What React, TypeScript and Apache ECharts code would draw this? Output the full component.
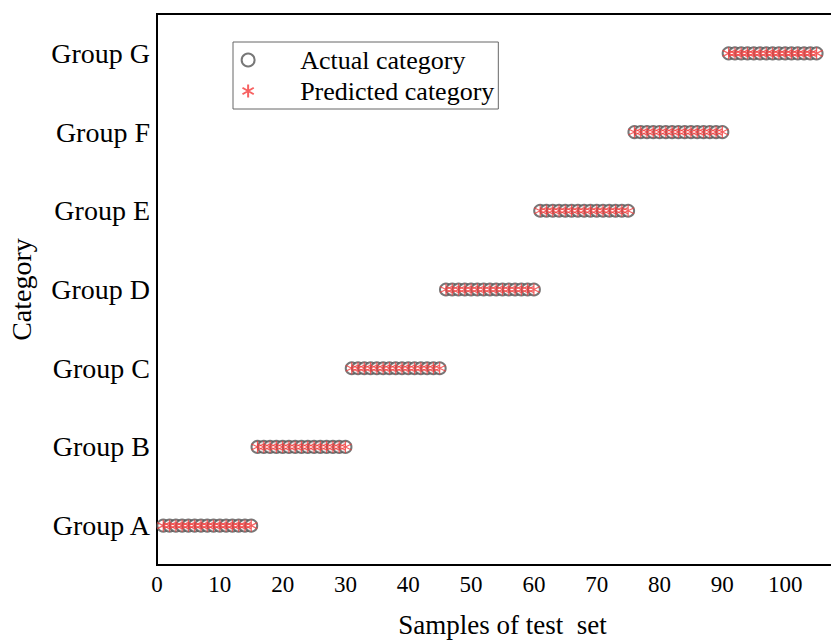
import React, { useEffect, useRef } from "react";
import * as echarts from "echarts";

const groups = ["Group A", "Group B", "Group C", "Group D", "Group E", "Group F", "Group G"];
const samples = Array.from({ length: 105 }, (_, i) => i + 1);
// category index of each sample (15 samples per group)
const actualCategory = [
  0,0,0,0,0,0,0,0,0,0,0,0,0,0,0,
  1,1,1,1,1,1,1,1,1,1,1,1,1,1,1,
  2,2,2,2,2,2,2,2,2,2,2,2,2,2,2,
  3,3,3,3,3,3,3,3,3,3,3,3,3,3,3,
  4,4,4,4,4,4,4,4,4,4,4,4,4,4,4,
  5,5,5,5,5,5,5,5,5,5,5,5,5,5,5,
  6,6,6,6,6,6,6,6,6,6,6,6,6,6,6,
];
const predictedCategory = [...actualCategory];
const xTicks = [0, 10, 20, 30, 40, 50, 60, 70, 80, 90, 100, 110];

const FONT = "'Liberation Serif', 'Times New Roman', serif";
const ASTERISK = "path://M0,-5L0,5M-4.33,-2.5L4.33,2.5M-4.33,2.5L4.33,-2.5";

export default function App() {
  const ref = useRef<HTMLDivElement>(null);
  useEffect(() => {
    const chart = echarts.init(ref.current!, null, { renderer: "svg" });
    chart.setOption({
      animation: false,
      backgroundColor: "#fff",
      grid: {
        left: 157, top: 14, right: 4, bottom: 79,
        outerBoundsMode: "none", containLabel: false,
        show: true, borderColor: "#000", borderWidth: 2,
      },
      legend: {
        left: 233, top: 42, orient: "vertical",
        borderColor: "#666", borderWidth: 1,
        padding: [5, 4, 5, 7], itemGap: 5,
        itemWidth: 50, itemHeight: 13,
        textStyle: { fontFamily: FONT, fontSize: 26, color: "#000", padding: [0, 0, 0, 22] },
        data: ["Actual category", "Predicted category"],
      },
      xAxis: {
        type: "value", min: 0, max: xTicks[xTicks.length - 1], interval: 10,
        name: "Samples of test  set", nameLocation: "middle", nameGap: 46,
        nameTextStyle: { fontFamily: FONT, fontSize: 27, color: "#000" },
        axisLine: { lineStyle: { color: "#000", width: 2 } },
        axisTick: { inside: true, length: 9, lineStyle: { color: "#000", width: 1.5 } },
        axisLabel: {
          fontFamily: FONT, fontSize: 23, color: "#000", margin: 8,
          formatter: (v: number) => (v > 100 ? "" : String(v)),
        },
        splitLine: { show: false },
      },
      yAxis: {
        type: "category", data: groups, boundaryGap: true,
        name: "Category", nameLocation: "middle", nameGap: 122, nameRotate: 90,
        nameTextStyle: { fontFamily: FONT, fontSize: 28, color: "#000" },
        axisLine: { lineStyle: { color: "#000", width: 2 } },
        axisTick: { inside: true, alignWithLabel: true, length: 9, lineStyle: { color: "#000", width: 1.5 } },
        axisLabel: { fontFamily: FONT, fontSize: 28, color: "#000", margin: 7 },
        splitLine: { show: false },
      },
      series: [
        {
          name: "Actual category", type: "scatter",
          symbol: "emptyCircle", symbolSize: 12,
          itemStyle: { color: "#555", borderColor: "#555", borderWidth: 0.9 },
          data: samples.map((s, i) => [s, actualCategory[i]]),
        },
        {
          name: "Predicted category", type: "scatter",
          symbol: ASTERISK, symbolSize: 12,
          itemStyle: { color: "none", borderColor: "#f53a3a", borderWidth: 1.2 },
          data: samples.map((s, i) => [s, predictedCategory[i]]),
        },
      ],
    });
    return () => chart.dispose();
  }, []);
  return (
    <div style={{ position: "absolute", left: 0, top: 0, width: 831, height: 644, overflow: "hidden" }}>
      <div ref={ref} style={{ width: 852, height: 644 }} />
    </div>
  );
}
